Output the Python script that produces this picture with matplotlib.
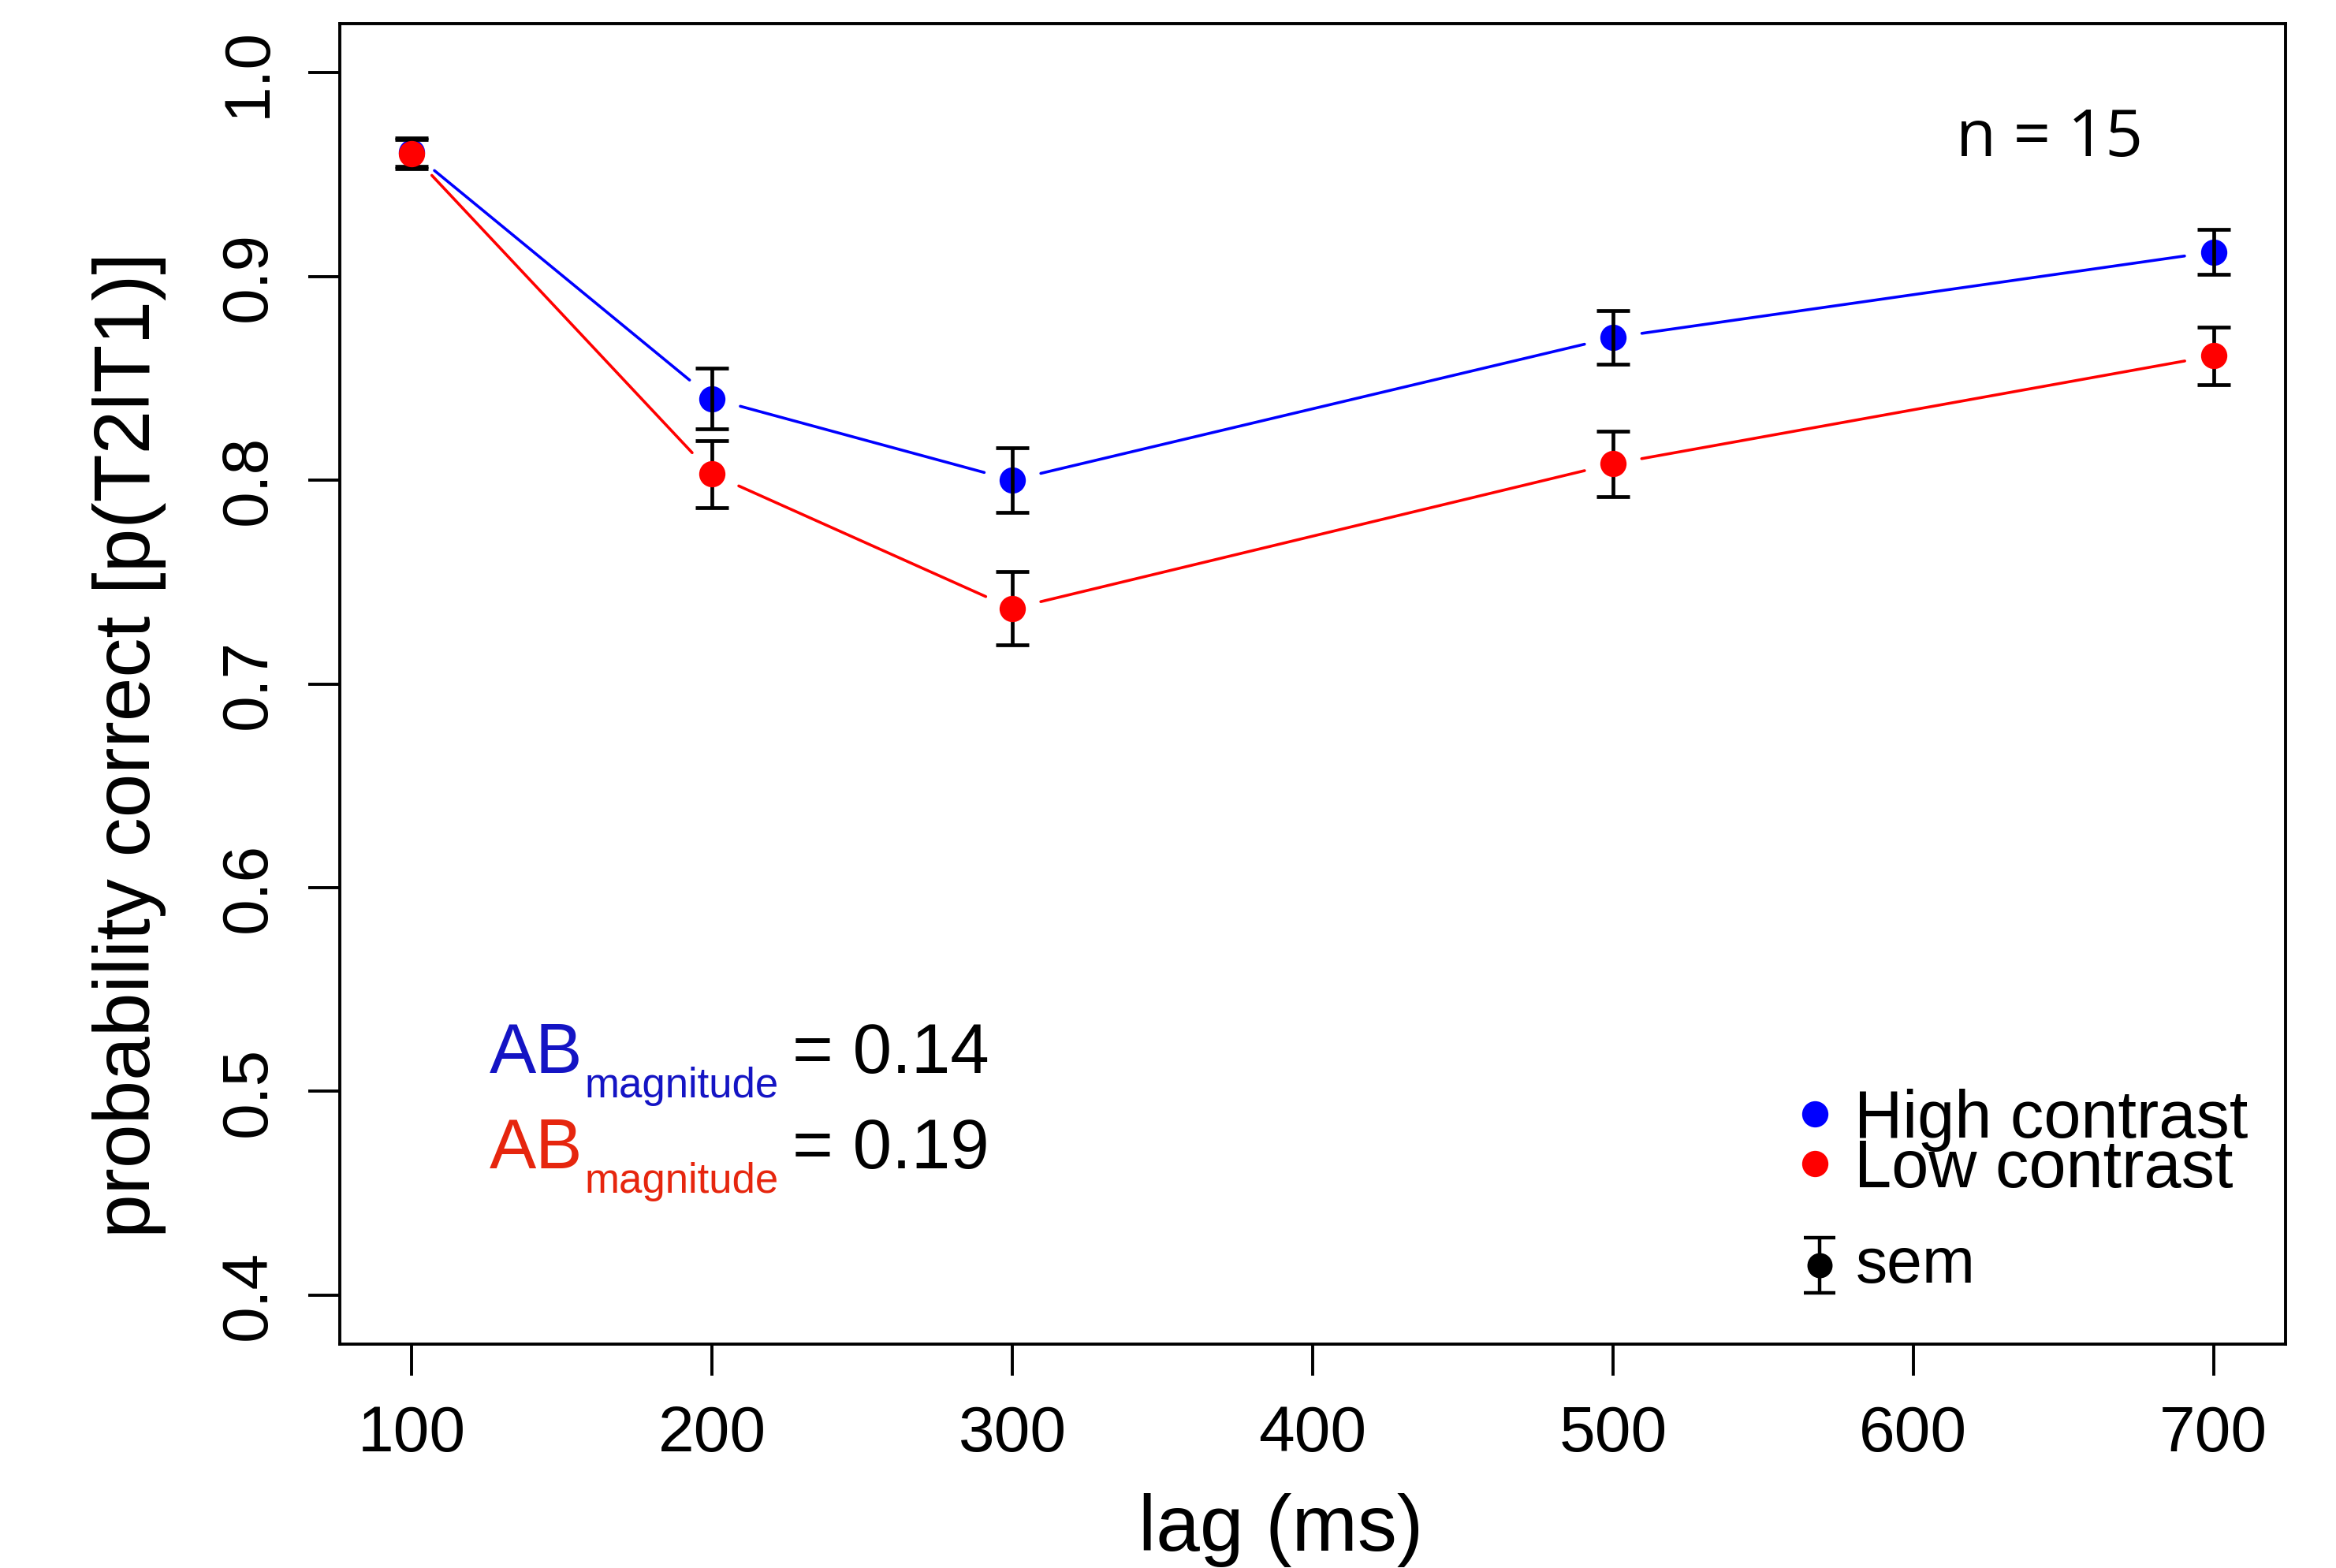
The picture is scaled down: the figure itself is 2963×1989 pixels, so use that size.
import numpy as np
import matplotlib
matplotlib.use('Agg')
import matplotlib.pyplot as plt

# data
lag = [100, 200, 300, 500, 700]
high = [0.961, 0.840, 0.800, 0.870, 0.912]
high_sem = [0.007, 0.015, 0.016, 0.013, 0.011]
low = [0.960, 0.803, 0.737, 0.808, 0.861]
low_sem = [0.007, 0.0165, 0.018, 0.016, 0.014]
xticks = [100, 200, 300, 400, 500, 600, 700]
yticks = [0.4, 0.5, 0.6, 0.7, 0.8, 0.9, 1.0]
ab_values = ['0.14', '0.19']
n_subj = 15

W, H = 2963, 1989
DPI = 200
plt.rcParams['font.family'] = ['Liberation Sans', 'DejaVu Sans']

fig = plt.figure(figsize=(W / DPI, H / DPI), dpi=DPI)

def fx(px):
    return px / W

def fy(py):
    return 1 - py / H

ax = fig.add_axes([fx(431), fy(1705), fx(2899) - fx(431), fy(30) - fy(1705)])
ax.set_xlim(76, 724)
ax.set_ylim(0.376, 1.024)

def to_data(px, py):
    return ax.transData.inverted().transform((px, H - py))

# R style type="b": line segments that stop short of the points
def gapped_line(x, y, color, gap=37):
    pts = ax.transData.transform(np.column_stack([x, y]))
    inv = ax.transData.inverted()
    for p0, p1 in zip(pts[:-1], pts[1:]):
        d = p1 - p0
        u = d / np.hypot(*d)
        a = inv.transform(p0 + u * gap)
        b = inv.transform(p1 - u * gap)
        ax.plot([a[0], b[0]], [a[1], b[1]], color=color, lw=1.3,
                solid_capstyle='round', zorder=1)

gapped_line(lag, high, 'blue')
gapped_line(lag, low, 'red')

ax.plot(lag, high, 'o', color='blue', ms=12, mec='none', zorder=2)
ax.errorbar(lag, high, yerr=high_sem, fmt='none', ecolor='k', elinewidth=1.7,
            capsize=7.5, capthick=1.7, zorder=3)
ax.errorbar(lag, low, yerr=low_sem, fmt='none', ecolor='k', elinewidth=1.7,
            capsize=7.5, capthick=1.7, zorder=3)
ax.plot(lag, low, 'o', color='red', ms=12, mec='none', zorder=4)

ax.set_xticks(xticks)
ax.set_xticklabels([str(t) for t in xticks])
ax.set_yticks(yticks)
ax.set_yticklabels(['%.1f' % t for t in yticks])
ax.tick_params(direction='out', length=14.4, width=1.4, labelsize=29.5, pad=13.5)
ax.tick_params(axis='y', labelrotation=90)
for t in ax.get_yticklabels():
    t.set_va('center')
for s in ax.spines.values():
    s.set_linewidth(1.4)

# legend, drawn by hand like R's legend()
for (px, py), col in zip([(2302, 1413), (2302, 1476)], ['blue', 'red']):
    d = to_data(px, py)
    ax.plot([d[0]], [d[1]], 'o', color=col, ms=12, mec='none', zorder=5)
fig.text(fx(2352), fy(1443), 'High contrast', fontsize=30.5, va='baseline')
fig.text(fx(2352), fy(1506), 'Low contrast', fontsize=30.5, va='baseline')

c = to_data(2308, 1605)
top = to_data(2308, 1570)
ax.errorbar([c[0]], [c[1]], yerr=[top[1] - c[1]], fmt='o', color='k', ms=10.5,
            elinewidth=1.6, capsize=7.3, capthick=1.6, zorder=5)
fig.text(fx(2354), fy(1627), 'sem', fontsize=29, va='baseline')

fig.text(fx(2481), fy(198), 'n = %d' % n_subj, family=['Open Sans', 'DejaVu Sans'],
         fontsize=30, ha='left', va='baseline')

ab_colors = ['#1414c4', '#e6260e']
for val, col, base in zip(ab_values, ab_colors, [1361, 1482]):
    fig.text(fx(621), fy(base), 'AB', color=col, fontsize=32, va='baseline')
    fig.text(fx(742), fy(base + 31), 'magnitude', color=col, fontsize=19, va='baseline')
    fig.text(fx(1005), fy(base), '= ' + val, fontsize=32, va='baseline')

fig.text(fx(1625), fy(1967), 'lag (ms)', fontsize=36, ha='center', va='baseline')
fig.text(fx(190), fy(945), 'probability correct [p(T2lT1)]', fontsize=36,
         rotation=90, rotation_mode='anchor', ha='center', va='baseline')

fig.savefig('out.png', dpi=DPI)
